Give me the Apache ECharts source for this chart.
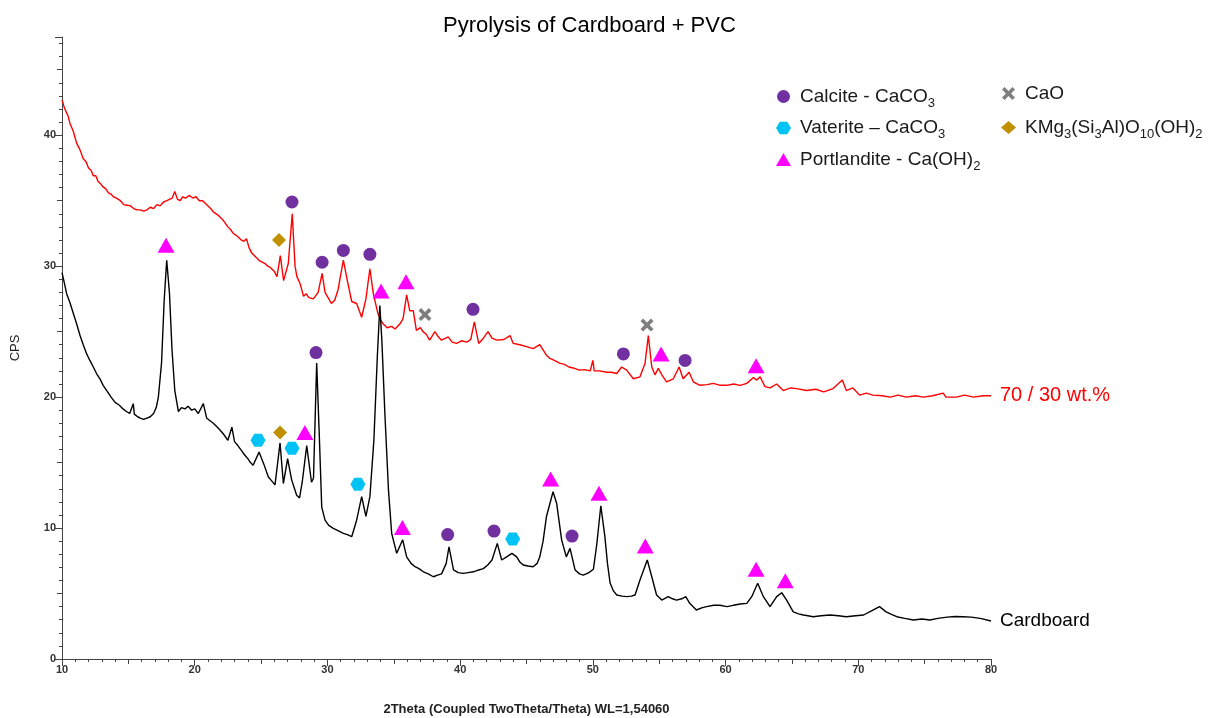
<!DOCTYPE html>
<html>
<head>
<meta charset="utf-8">
<script src="https://cdn.jsdelivr.net/npm/echarts@6/dist/echarts.min.js"></script>
<style>html,body{margin:0;padding:0;background:#fff;}#c{width:1211px;height:718px;}</style>
</head>
<body>
<div id="c"></div>
<script>
// ---- Data (2Theta, CPS) ----
var pvcBlend = [[10.0,42.7],[10.15,42.2],[10.3,41.8],[10.45,41.5],[10.6,40.9],[10.85,40.3],[11.1,39.4],[11.35,38.9],[11.6,38.2],[11.8,38.0],[12.0,37.5],[12.2,37.3],[12.36,36.9],[12.55,36.9],[12.7,36.5],[12.9,36.3],[13.1,36.05],[13.3,35.9],[13.5,35.6],[13.7,35.5],[13.87,35.3],[14.1,35.2],[14.4,35.0],[14.65,34.7],[14.9,34.65],[15.15,34.6],[15.4,34.4],[15.65,34.3],[15.9,34.3],[16.15,34.2],[16.4,34.3],[16.65,34.5],[16.9,34.4],[17.15,34.7],[17.4,34.6],[17.65,34.9],[17.9,35.0],[18.1,35.1],[18.3,35.2],[18.5,35.7],[18.7,35.1],[18.9,35.0],[19.1,35.3],[19.3,35.2],[19.6,35.4],[19.85,35.2],[20.1,35.3],[20.35,35.0],[20.6,35.0],[20.8,34.8],[21.0,34.6],[21.2,34.4],[21.4,34.15],[21.75,33.9],[22.15,33.5],[22.5,33.0],[22.7,32.8],[22.9,32.5],[23.2,32.3],[23.5,32.0],[23.7,31.9],[23.9,32.1],[24.1,31.4],[24.3,31.0],[24.6,30.7],[24.9,30.4],[25.3,30.2],[25.5,30.0],[25.7,29.9],[26.0,29.6],[26.2,29.2],[26.45,30.8],[26.7,28.9],[27.05,30.2],[27.35,34.0],[27.56,30.0],[27.7,29.2],[27.93,28.7],[28.2,27.7],[28.4,27.9],[28.6,27.6],[28.94,27.5],[29.3,28.0],[29.6,29.45],[29.82,28.0],[30.05,27.6],[30.3,27.15],[30.55,27.4],[30.8,28.2],[31.2,30.46],[31.5,28.9],[31.83,27.3],[32.2,27.15],[32.4,26.6],[32.58,26.1],[32.9,27.5],[33.2,29.8],[33.46,27.9],[33.8,26.4],[34.0,25.9],[34.2,25.6],[34.5,25.3],[34.84,25.4],[35.1,25.2],[35.47,25.6],[35.7,26.0],[35.97,27.8],[36.2,26.6],[36.47,26.6],[36.7,25.1],[37.0,25.3],[37.2,25.0],[37.45,24.8],[37.7,24.35],[38.1,25.0],[38.35,24.6],[38.6,24.35],[39.1,24.6],[39.4,24.2],[39.74,24.1],[40.1,24.3],[40.5,24.2],[40.8,24.4],[41.07,25.75],[41.4,24.1],[41.75,24.5],[42.1,25.0],[42.4,24.5],[42.76,24.35],[43.3,24.4],[43.76,24.7],[44.0,24.1],[44.5,24.0],[45.0,23.85],[45.5,23.7],[46.0,24.0],[46.5,23.2],[46.77,22.95],[47.1,22.8],[47.5,22.6],[47.85,22.5],[48.2,22.3],[48.6,22.2],[49.0,22.06],[49.4,22.1],[49.8,22.0],[50.0,22.8],[50.1,22.0],[50.5,22.0],[51.04,21.9],[51.4,21.9],[51.8,21.8],[52.17,22.3],[52.55,22.06],[53.05,21.4],[53.55,21.55],[53.93,22.57],[54.18,24.7],[54.44,22.3],[54.68,21.7],[54.93,22.2],[55.2,21.7],[55.55,21.17],[56.06,21.4],[56.5,22.3],[56.8,21.4],[57.25,21.9],[57.57,21.17],[58.07,20.9],[58.6,20.95],[59.08,21.05],[59.6,20.9],[60.09,20.9],[60.6,21.0],[61.1,20.9],[61.6,21.05],[62.1,21.5],[62.35,21.3],[62.6,21.55],[62.97,20.8],[63.35,20.7],[63.85,21.0],[64.35,20.5],[64.9,20.7],[65.36,20.65],[66.1,20.5],[66.8,20.6],[67.4,20.4],[68.1,20.65],[68.8,21.3],[69.1,20.5],[69.6,20.7],[70.1,20.15],[70.6,20.3],[71.1,20.15],[71.8,20.1],[72.4,20.0],[73.0,20.15],[73.6,20.0],[74.3,20.1],[74.9,20.0],[75.6,20.1],[76.4,20.3],[76.6,20.0],[77.4,20.0],[78.0,20.15],[78.7,20.0],[79.4,20.1],[80.0,20.1]];

var cardboard = [[10.0,29.5],[10.18,28.7],[10.35,27.9],[10.6,27.2],[10.85,26.4],[11.1,25.6],[11.36,24.7],[11.6,24.0],[11.86,23.3],[12.1,22.8],[12.36,22.3],[12.6,21.8],[12.86,21.4],[13.1,20.9],[13.37,20.5],[13.7,20.0],[14.0,19.6],[14.3,19.4],[14.6,19.1],[14.85,18.9],[15.1,18.75],[15.37,19.5],[15.45,18.7],[15.7,18.5],[15.9,18.4],[16.15,18.3],[16.4,18.4],[16.65,18.5],[16.9,18.75],[17.1,19.2],[17.26,20.0],[17.5,22.6],[17.7,27.4],[17.89,30.45],[18.1,27.9],[18.29,23.6],[18.5,20.5],[18.77,18.9],[19.0,19.2],[19.27,19.1],[19.5,19.3],[19.77,19.0],[20.0,19.1],[20.27,18.75],[20.65,19.5],[20.9,18.4],[21.15,18.2],[21.4,18.0],[21.8,17.6],[22.15,17.2],[22.5,16.7],[22.8,17.7],[23.0,16.6],[23.25,16.3],[23.5,15.95],[23.75,15.6],[24.0,15.3],[24.2,15.0],[24.4,14.8],[24.85,15.8],[25.2,14.9],[25.55,13.9],[25.8,13.6],[26.05,13.3],[26.2,13.2],[26.43,16.5],[26.68,13.4],[27.0,15.3],[27.3,13.7],[27.68,12.5],[27.9,12.3],[28.1,13.5],[28.44,16.3],[28.8,13.5],[28.95,13.8],[29.19,22.6],[29.4,16.7],[29.57,11.6],[29.82,10.6],[30.1,10.2],[30.44,9.98],[30.8,9.8],[31.2,9.6],[31.5,9.5],[31.83,9.34],[32.2,10.6],[32.58,12.4],[32.9,10.9],[33.2,12.4],[33.5,16.7],[33.76,23.1],[33.95,27.0],[34.1,24.35],[34.34,18.5],[34.6,12.9],[34.84,9.6],[35.22,8.07],[35.67,9.1],[35.97,7.8],[36.3,7.3],[36.6,7.05],[36.9,6.9],[37.23,6.66],[37.6,6.5],[37.98,6.28],[38.3,6.4],[38.6,6.5],[38.95,7.3],[39.16,8.57],[39.5,6.8],[39.85,6.6],[40.24,6.54],[40.6,6.6],[41.0,6.66],[41.4,6.8],[41.75,6.9],[42.1,7.2],[42.4,7.56],[42.8,8.83],[43.13,7.56],[43.5,7.8],[43.9,8.07],[44.26,7.8],[44.5,7.4],[44.76,7.18],[45.1,7.1],[45.5,7.05],[45.8,7.3],[46.0,7.8],[46.25,9.0],[46.5,10.86],[47.0,12.77],[47.27,11.9],[47.65,9.08],[48.0,7.8],[48.28,8.45],[48.66,6.8],[49.0,6.5],[49.28,6.4],[49.7,6.6],[50.04,6.85],[50.3,8.8],[50.6,11.7],[50.9,9.4],[51.1,7.3],[51.3,5.8],[51.55,5.2],[51.8,4.89],[52.2,4.8],[52.55,4.76],[52.9,4.8],[53.18,4.89],[53.55,6.03],[54.1,7.56],[54.44,6.28],[54.8,4.89],[55.19,4.5],[55.68,4.76],[56.0,4.6],[56.3,4.5],[56.7,4.6],[57.0,4.76],[57.3,4.25],[57.8,3.74],[58.2,3.9],[58.57,4.0],[59.1,4.1],[59.58,4.1],[60.1,4.0],[60.58,4.1],[61.1,4.2],[61.6,4.25],[61.97,4.76],[62.42,5.78],[62.85,4.76],[63.35,4.0],[63.85,4.76],[64.23,5.06],[64.6,4.5],[65.1,3.6],[65.5,3.45],[65.86,3.36],[66.2,3.3],[66.6,3.23],[67.2,3.3],[67.87,3.36],[68.5,3.3],[69.1,3.23],[69.8,3.3],[70.4,3.36],[71.1,3.74],[71.6,4.0],[72.1,3.6],[72.5,3.4],[72.9,3.23],[73.5,3.1],[74.15,2.98],[74.8,3.05],[75.4,2.98],[76.0,3.1],[76.7,3.2],[77.3,3.25],[77.9,3.23],[78.5,3.2],[79.2,3.1],[80.0,2.9]];

// phase markers (2Theta, CPS position of the marker)
var calcite = [[27.33,34.9],[29.6,30.3],[31.2,31.2],[33.2,30.9],[40.97,26.7],[52.3,23.3],[56.95,22.8],[29.14,23.4],[39.06,9.5],[42.55,9.77],[48.43,9.39]];
var vaterite = [[24.77,16.7],[27.33,16.1],[32.3,13.35],[43.96,9.16]];
var portlandite = [[17.84,31.6],[34.04,28.1],[35.92,28.8],[55.14,23.3],[62.3,22.4],[28.3,17.3],[35.65,10.05],[46.82,13.74],[50.46,12.65],[53.95,8.63],[62.3,6.85],[64.5,5.98]];
var caO = [[37.35,26.3],[54.08,25.5]];
var kmgSilicate = [[26.35,32.0],[26.43,17.3]];

var seriesNames = ['70 / 30 wt.%','Cardboard'];
var phaseNames = ['Calcite - CaCO3','Vaterite \u2013 CaCO3','Portlandite - Ca(OH)2','CaO','KMg3(Si3Al)O10(OH)2'];
var xTicks = [10,20,30,40,50,60,70,80];
var yTicks = [0,10,20,30,40];

var HEX = 'path://M0,5 L3,0 L9,0 L12,5 L9,10 L3,10 Z';
var CROSS = 'path://M2,0 L5,3 L8,0 L10,2 L7,5 L10,8 L8,10 L5,7 L2,10 L0,8 L3,5 L0,2 Z';

var richLegend = {
  n: {fontSize: 19, color: '#1a1a1a', fontFamily: 'Liberation Sans', lineHeight: 26},
  s: {fontSize: 13, color: '#1a1a1a', fontFamily: 'Liberation Sans', lineHeight: 13, verticalAlign: 'bottom'}
};
var legendRich = {
  'Calcite - CaCO3': '{n|Calcite - CaCO}{s|3}',
  'Vaterite \u2013 CaCO3': '{n|Vaterite \u2013 CaCO}{s|3}',
  'Portlandite - Ca(OH)2': '{n|Portlandite - Ca(OH)}{s|2}',
  'CaO': '{n|CaO}',
  'KMg3(Si3Al)O10(OH)2': '{n|KMg}{s|3}{n|(Si}{s|3}{n|Al)O}{s|10}{n|(OH)}{s|2}'
};

var chart = echarts.init(document.getElementById('c'), null, {renderer: 'canvas'});
var font = 'Liberation Sans';
var tickLabel = {fontSize: 11, fontWeight: 'bold', color: '#333', fontFamily: 'Liberation Sans Narrow, Liberation Sans'};

function markerSeries(name, data, symbol, size, color) {
  return {name: name, type: 'scatter', data: data, symbol: symbol, symbolSize: size,
    itemStyle: {color: color, opacity: 1}, z: 5, silent: true};
}

chart.setOption({
  animation: false,
  backgroundColor: '#fff',
  title: {text: 'Pyrolysis of Cardboard + PVC', left: 443, top: 15, padding: 0,
    textStyle: {fontSize: 22, fontWeight: 'normal', color: '#000', fontFamily: font}},
  grid: {left: 62, right: 220, top: 37, bottom: 59, containLabel: false, outerBoundsMode: 'none'},
  legend: [
    {orient: 'vertical', left: 771, top: 82, itemWidth: 15, itemHeight: 13, itemGap: 9,
      data: phaseNames.slice(0, 3), selectedMode: false,
      formatter: function (n) { return legendRich[n]; },
      textStyle: {rich: richLegend, padding: [0, 0, 0, 4]}},
    {orient: 'vertical', left: 996, top: 79, itemWidth: 15, itemHeight: 13, itemGap: 15,
      data: phaseNames.slice(3), selectedMode: false,
      formatter: function (n) { return legendRich[n]; },
      textStyle: {rich: richLegend, padding: [0, 0, 0, 4]}}
  ],
  xAxis: [
    {type: 'value', min: xTicks[0], max: xTicks[xTicks.length - 1], interval: 10, position: 'bottom',
      name: '2Theta (Coupled TwoTheta/Theta) WL=1,54060', nameLocation: 'middle', nameGap: 44,
      nameTextStyle: {fontSize: 13, fontWeight: 'bold', color: '#222', fontFamily: 'Liberation Sans Narrow, Liberation Sans'},
      axisLine: {lineStyle: {color: '#444', width: 1}},
      axisTick: {show: true, length: 7, lineStyle: {color: '#444'}},
      minorTick: {show: true, splitNumber: 10, length: 3, lineStyle: {color: '#444'}},
      splitLine: {show: false},
      axisLabel: Object.assign({margin: 5}, tickLabel)},
    {type: 'value', min: xTicks[0], max: xTicks[xTicks.length - 1], interval: 5, position: 'bottom',
      axisLine: {show: false}, axisLabel: {show: false}, splitLine: {show: false},
      axisTick: {show: true, length: 5, lineStyle: {color: '#444'}}}
  ],
  yAxis: [
    {type: 'value', min: yTicks[0], max: 47.5, interval: 10, position: 'left',
      name: 'CPS', nameLocation: 'middle', nameGap: 40, nameRotate: 90,
      nameTextStyle: {fontSize: 13, color: '#222', fontFamily: font},
      axisLine: {show: true, lineStyle: {color: '#444', width: 1}},
      axisTick: {show: true, length: 7, lineStyle: {color: '#444'}},
      minorTick: {show: true, splitNumber: 10, length: 3, lineStyle: {color: '#444'}},
      splitLine: {show: false},
      axisLabel: Object.assign({margin: 6, showMaxLabel: false}, tickLabel)},
    {type: 'value', min: yTicks[0], max: 47.5, interval: 5, position: 'left',
      axisLine: {show: false}, axisLabel: {show: false}, splitLine: {show: false},
      axisTick: {show: true, length: 5, lineStyle: {color: '#444'}}}
  ],
  series: [
    {name: seriesNames[0], type: 'line', data: pvcBlend, showSymbol: false, symbol: 'none',
      lineStyle: {color: '#ff0000', width: 1.4}, z: 3,
      endLabel: {show: true, formatter: seriesNames[0], color: '#ff0000', fontSize: 20, fontFamily: font, distance: 9}},
    {name: seriesNames[1], type: 'line', data: cardboard, showSymbol: false, symbol: 'none',
      lineStyle: {color: '#000', width: 1.4}, z: 3,
      endLabel: {show: true, formatter: seriesNames[1], color: '#000', fontSize: 19, fontFamily: font, distance: 9}},
    markerSeries(phaseNames[0], calcite, 'circle', 13, '#7030a0'),
    markerSeries(phaseNames[1], vaterite, HEX, [15, 13], '#00c3f5'),
    markerSeries(phaseNames[2], portlandite, 'triangle', [17, 15], '#ff00ff'),
    markerSeries(phaseNames[3], caO, CROSS, 13, '#7f7f7f'),
    markerSeries(phaseNames[4], kmgSilicate, 'diamond', 14, '#bf9000')
  ]
});
</script>
</body>
</html>
